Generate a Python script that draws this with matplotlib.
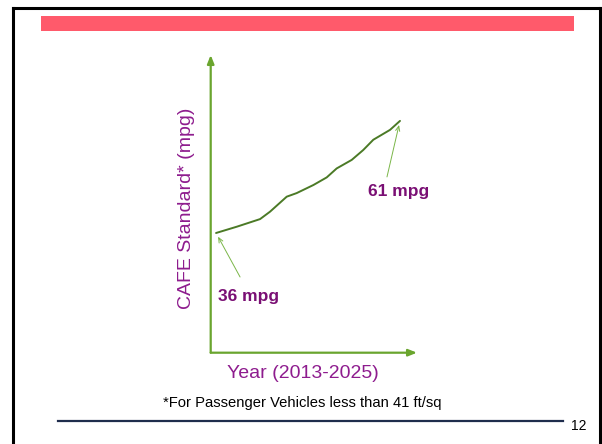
import matplotlib.pyplot as plt
from matplotlib.patches import Rectangle
from matplotlib.lines import Line2D

# CAFE standard curve (year, mpg)
years = [2013, 2014.35, 2015.87, 2016.52, 2017.61, 2018.26, 2019.35,
         2020.22, 2020.87, 2021.85, 2022.6, 2023.26, 2024.35, 2025]
mpg = [36, 37.4, 39.1, 40.75, 44.1, 44.9, 46.7,
       48.4, 50.4, 52.3, 54.5, 56.8, 59, 61]

start_label = '36 mpg'
end_label = '61 mpg'
footnote = '*For Passenger Vehicles less than 41 ft/sq'
page_no = '12'

axis_green = '#6aa52e'
curve_green = '#4b7a26'
purple = '#8e1c8e'
dark_purple = '#7a0f74'

plt.rcParams['font.family'] = ['Liberation Sans', 'DejaVu Sans']

fig = plt.figure(figsize=(6.02, 4.44), dpi=100)
W, H = 602, 444

# slide frame and decorations
fig.add_artist(Line2D([13 / W, 13 / W], [0, 1 - 8 / H], color='black', lw=2.2))
fig.add_artist(Line2D([600 / W, 600 / W], [0, 1 - 8 / H], color='black', lw=2.2))
fig.add_artist(Line2D([13 / W, 600 / W], [1 - 8 / H, 1 - 8 / H], color='black', lw=2.2))
fig.add_artist(Rectangle((41 / W, 1 - 31 / H), (574 - 41) / W, 15 / H,
                         transform=fig.transFigure, color='#ff5a6b', lw=0))
fig.add_artist(Line2D([58 / W, 563 / W], [1 - 421 / H, 1 - 421 / H], color='#1f2d4d', lw=1.6))
fig.text(579 / W, 1 - 426 / H, page_no, fontsize=10, ha='center', va='center')
fig.text(302 / W, 1 - 403 / H, footnote, fontsize=10.6, ha='center', va='center')

ax = fig.add_axes([210.7 / W, 1 - 352.7 / H, (417 - 210.7) / W, (352.7 - 55) / H])
ax.set_xlim(2012.65, 2026.11)
ax.set_ylim(9.3, 75.7)
for s in ax.spines.values():
    s.set_visible(False)
ax.set_xticks([])
ax.set_yticks([])
ax.patch.set_alpha(0)

# axes drawn as arrows
ax.annotate('', xy=(1, 0), xytext=(0, 0), xycoords='axes fraction',
            arrowprops=dict(arrowstyle='-|>,head_length=0.5,head_width=0.2',
                            color=axis_green, lw=1.6, shrinkA=0, shrinkB=0))
ax.annotate('', xy=(0, 1), xytext=(0, 0), xycoords='axes fraction',
            arrowprops=dict(arrowstyle='-|>,head_length=0.5,head_width=0.2',
                            color=axis_green, lw=1.6, shrinkA=0, shrinkB=0))

ax.plot(years, mpg, color=curve_green, lw=1.4, solid_capstyle='round',
        solid_joinstyle='round')

# callouts
thin = dict(arrowstyle='->,head_length=0.35,head_width=0.15', color='#7ab648',
            lw=0.7, shrinkA=0, shrinkB=3)
ax.annotate('', xy=(years[0], mpg[0]), xytext=(24, -44), textcoords='offset pixels',
            arrowprops=thin)
ax.annotate(start_label, xy=(years[0], mpg[0]), xytext=(2, -64),
            textcoords='offset pixels', ha='left', va='center',
            fontsize=12.5, fontweight='bold', color=dark_purple)
ax.annotate('', xy=(years[-1], mpg[-1]), xytext=(-13, -56), textcoords='offset pixels',
            arrowprops=thin)
ax.annotate(end_label, xy=(years[-1], mpg[-1]), xytext=(-32, -71),
            textcoords='offset pixels', ha='left', va='center',
            fontsize=12.5, fontweight='bold', color=dark_purple)

fig.text(186 / W, 1 - 208 / H, 'CAFE Standard* (mpg)', rotation=90,
         fontsize=14, ha='center', va='center', color=purple)
fig.text(303 / W, 1 - 373 / H, 'Year (2013-2025)',
         fontsize=14, ha='center', va='center', color=purple)

fig.savefig('out.png', dpi=100)
